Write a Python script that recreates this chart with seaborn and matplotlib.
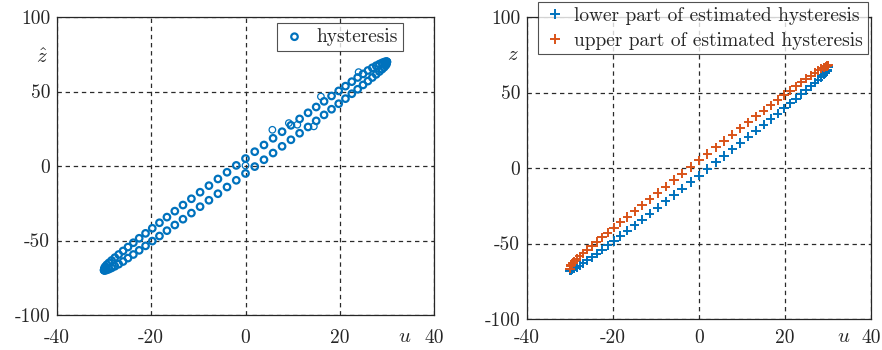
import numpy as np
import pandas as pd
import matplotlib
matplotlib.use("Agg")
import matplotlib.pyplot as plt
import seaborn as sns

# input samples (same for all branches)
u_vals = [-30.0, -29.94, -29.74, -29.42, -28.98, -28.41, -27.72, -26.91, -25.98, -24.94,
          -23.80, -22.56, -21.21, -19.78, -18.26, -16.67, -15.00, -13.27, -11.48, -9.64,
          -7.76, -5.85, -3.92, -1.96, 0.0, 1.96, 3.92, 5.85, 7.76, 9.64,
          11.48, 13.27, 15.00, 16.67, 18.26, 19.78, 21.21, 22.56, 23.80, 24.94,
          25.98, 26.91, 27.72, 28.41, 28.98, 29.42, 29.74, 29.94, 30.0]

# left panel: measured hysteresis
hyst_upper = [-69.9, -68.5, -67.5, -66.3, -65.0, -63.4, -61.5, -59.4, -57.0, -54.4,
              -51.5, -48.5, -45.2, -41.8, -38.1, -34.3, -30.3, -26.2, -22.0, -17.6,
              -13.2, -8.7, -4.2, 0.4, 5.0, 9.6, 14.1, 18.6, 23.0, 27.3,
              31.6, 35.7, 39.6, 43.4, 47.0, 50.4, 53.6, 56.6, 59.4, 61.8,
              64.1, 65.9, 67.3, 68.4, 69.2, 69.7, 70.0, 70.0, 69.9]
hyst_lower = [-69.9, -70.0, -70.0, -69.7, -69.2, -68.4, -67.3, -65.9, -64.1, -61.8,
              -59.4, -56.6, -53.6, -50.4, -47.0, -43.4, -39.6, -35.7, -31.6, -27.3,
              -23.0, -18.6, -14.1, -9.6, -5.0, -0.4, 4.2, 8.7, 13.2, 17.6,
              22.0, 26.2, 30.3, 34.3, 38.1, 41.8, 45.2, 48.5, 51.5, 54.4,
              57.0, 59.4, 61.5, 63.4, 65.0, 66.3, 67.5, 68.5, 69.9]
# a few points from another cycle that do not overlap
stray_u = [0.0, 5.7, 9.2, 11.0, 14.5, 16.0, 24.0]
stray_z = [0.3, 24.3, 28.8, 27.7, 26.6, 46.6, 63.0]

# right panel: estimated hysteresis
est_lower = [-68.0, -67.8, -67.5, -67.1, -66.5, -65.90, -64.63, -63.07, -61.22, -59.10,
             -56.74, -54.14, -51.29, -48.25, -44.99, -41.57, -37.95, -34.20, -30.29, -26.27,
             -22.14, -17.94, -13.68, -9.35, -5.0, -0.65, 3.72, 8.04, 12.32, 16.53,
             20.69, 24.72, 28.65, 32.45, 36.09, 39.57, 42.89, 46.02, 48.94, 51.64,
             54.14, 56.41, 58.45, 60.24, 61.80, 63.10, 64.22, 65.19, 66.6]
est_upper = [-66.6, -65.19, -64.22, -63.10, -61.80, -60.24, -58.45, -56.41, -54.14, -51.64,
             -48.94, -46.02, -42.89, -39.57, -36.09, -32.45, -28.65, -24.72, -20.69, -16.53,
             -12.32, -8.04, -3.72, 0.65, 5.0, 9.35, 13.68, 17.94, 22.14, 26.27,
             30.29, 34.20, 37.95, 41.57, 44.99, 48.25, 51.29, 54.14, 56.74, 59.10,
             61.22, 63.07, 64.63, 65.90, 66.5, 67.1, 67.5, 67.8, 68.0]

x_ticks = [-40, -20, 0, 20, 40]
y_ticks = [-100, -50, 0, 50, 100]

BLUE = "#0072BD"
ORANGE = "#D95319"

sns.set_style("white")
plt.rcParams["font.family"] = ["cmr10", "DejaVu Serif"]
plt.rcParams["mathtext.fontset"] = "cm"
plt.rcParams["axes.unicode_minus"] = False

left_df = pd.DataFrame({"u": u_vals + u_vals, "z": hyst_upper + hyst_lower})
stray_df = pd.DataFrame({"u": stray_u, "z": stray_z})
right_df = pd.DataFrame({
    "u": u_vals + u_vals,
    "z": est_lower + est_upper,
    "part": ["lower part of estimated hysteresis"] * len(u_vals)
            + ["upper part of estimated hysteresis"] * len(u_vals),
})

fig = plt.figure(figsize=(8.82, 3.5), dpi=100)
ax1 = fig.add_axes([57 / 882, 35 / 350, 377 / 882, 298 / 350])
ax2 = fig.add_axes([527 / 882, 31 / 350, 344 / 882, 302 / 350])


def style_axes(ax, pad_x):
    ax.set_xlim(-40, 40)
    ax.set_ylim(-100, 100)
    ax.set_xticks(x_ticks)
    ax.set_yticks(y_ticks)
    ax.set_xticklabels([str(t) for t in x_ticks])
    ax.set_yticklabels([str(t) for t in y_ticks])
    ax.grid(True, color="#2a2a2a", linestyle=(0, (3.5, 3)), linewidth=0.9)
    ax.set_axisbelow(True)
    ax.tick_params(axis="both", direction="in", length=3, width=0.8,
                   labelsize=14, colors="#262626", labelcolor="#262626")
    ax.tick_params(axis="x", pad=pad_x)
    ax.tick_params(axis="y", pad=5)
    for sp in ax.spines.values():
        sp.set_color("#262626")
        sp.set_linewidth(0.9)
    ax.set_xlabel("")
    ax.set_ylabel("")


# left panel
sns.scatterplot(data=left_df, x="u", y="z", ax=ax1, marker="o", s=22,
                facecolors="none", edgecolor=BLUE, linewidth=1.6,
                label="hysteresis")
sns.scatterplot(data=stray_df, x="u", y="z", ax=ax1, marker="o", s=22,
                facecolors="none", edgecolor=BLUE, linewidth=0.9, legend=False)
style_axes(ax1, 10)
ax1.text(-0.04, 0.862, r"$\hat{z}$", transform=ax1.transAxes,
         ha="center", va="center", fontsize=15, color="#262626")
ax1.text(0.923, -0.074, r"$u$", transform=ax1.transAxes,
         ha="center", va="center", fontsize=15, color="#262626")
leg1 = ax1.legend(loc="upper right", bbox_to_anchor=(0.918, 0.98), fontsize=14,
                  frameon=True, fancybox=False, handletextpad=0.5,
                  borderpad=0.25, handlelength=1.3, borderaxespad=0)
leg1.get_frame().set_edgecolor("#262626")
leg1.get_frame().set_linewidth(0.8)

# right panel
sns.scatterplot(data=right_df, x="u", y="z", hue="part", ax=ax2, marker="+",
                s=45, linewidth=1.4, palette=[BLUE, ORANGE])
style_axes(ax2, 7)
ax2.text(-0.041, 0.874, r"$z$", transform=ax2.transAxes,
         ha="center", va="center", fontsize=15, color="#262626")
ax2.text(0.922, -0.06, r"$u$", transform=ax2.transAxes,
         ha="center", va="center", fontsize=15, color="#262626")
leg2 = ax2.legend(loc="upper right", bbox_to_anchor=(0.99, 1.05), fontsize=14,
                  frameon=True, fancybox=False, handletextpad=0.4,
                  borderpad=0.25, handlelength=1.2, borderaxespad=0,
                  labelspacing=0.35, title=None)
leg2.get_frame().set_edgecolor("#262626")
leg2.get_frame().set_linewidth(0.8)

fig.savefig("out.png", dpi=100)
